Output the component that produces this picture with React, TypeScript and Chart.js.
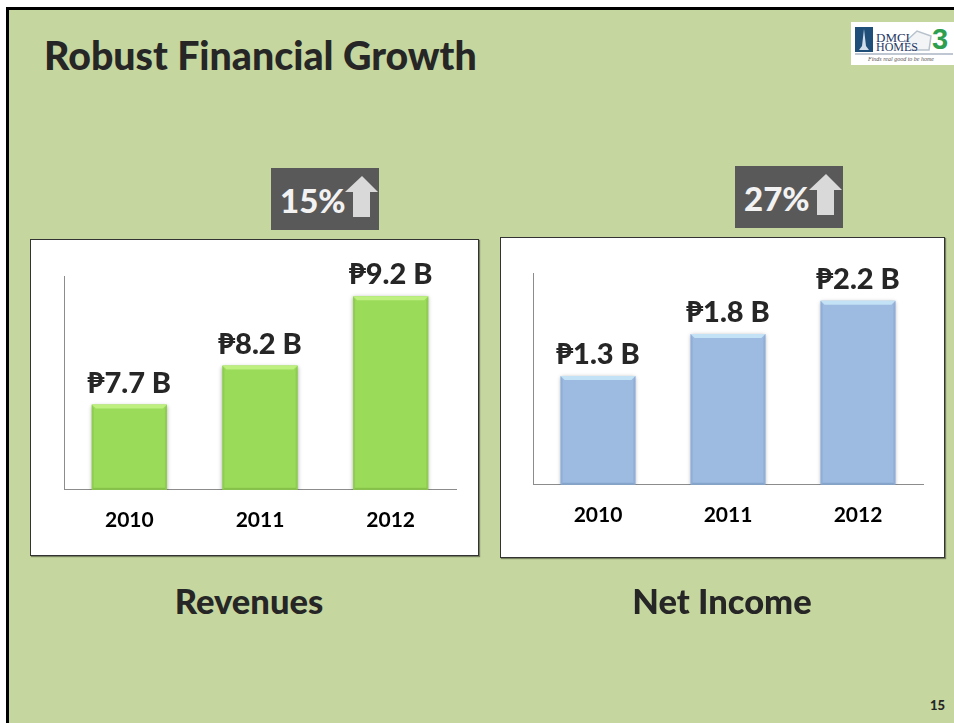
import React, { useEffect, useRef } from "react";
import { Chart, registerables } from "chart.js";

Chart.register(...registerables);

const years = ["2010", "2011", "2012"];
const revenues = [7.7, 8.24, 9.2];
const netIncome = [1.3, 1.8, 2.2];
const FONT = "Lato, 'Noto Sans', sans-serif";

const bevelPlugin = {
  id: "bevel",
  beforeDatasetDraw(chart: any) {
    const c = chart.ctx;
    c.save();
    c.shadowColor = "rgba(0,0,0,0.35)";
    c.shadowBlur = 4;
    c.shadowOffsetY = 1;
  },
  afterDatasetDraw(chart: any) {
    const c = chart.ctx;
    c.restore();
    const o = chart.options.plugins.bevel;
    const meta = chart.getDatasetMeta(0);
    meta.data.forEach((el: any, i: number) => {
      const l = el.x - el.width / 2, r = el.x + el.width / 2, t = el.y;
      const b = Math.min(el.base, chart.chartArea.bottom);
      const s = 4;
      const poly = (pts: number[][], col: any) => {
        c.beginPath();
        pts.forEach((p, k) => (k ? c.lineTo(p[0], p[1]) : c.moveTo(p[0], p[1])));
        c.closePath();
        c.fillStyle = col;
        c.fill();
      };
      poly([[l, t], [r, t], [r - s, t + s], [l + s, t + s]], o.top);
      poly([[l, t], [l + 2, t + s], [l + 2, b - 2], [l, b]], o.side);
      poly([[r, t], [r - 2, t + s], [r - 2, b - 2], [r, b]], o.side);
      poly([[l, b], [l + 2, b - 2], [r - 2, b - 2], [r, b]], o.bottom);
      c.save();
      c.font = `900 29px ${FONT}`;
      c.fillStyle = "#262626";
      c.textAlign = "center";
      c.textBaseline = "alphabetic";
      c.fillText(`₱${chart.data.datasets[0].data[i].toFixed(1)} B`, el.x, t - 12);
      c.restore();
    });
  },
};

function BarChart(props: any) {
  const ref = useRef<HTMLCanvasElement>(null);
  useEffect(() => {
    const chart = new Chart(ref.current as any, {
      type: "bar",
      data: {
        labels: years,
        datasets: [{
          data: props.values,
          backgroundColor: props.fill,
          borderWidth: 0,
          categoryPercentage: 1,
          barPercentage: 0.575,
        }],
      },
      options: {
        animation: false,
        responsive: false,
        layout: { padding: props.padding },
        plugins: {
          legend: { display: false },
          tooltip: { enabled: false },
          title: { display: false },
          bevel: props.bevel,
        },
        scales: {
          x: {
            grid: { display: false, drawTicks: false },
            border: { color: "#8c8c8c", width: 1 },
            ticks: { color: "#000", padding: props.tickPad, font: { family: FONT, weight: "bold", size: 21 } },
          },
          y: {
            min: props.min,
            max: props.max,
            grid: { display: false, drawTicks: false },
            border: { color: "#8c8c8c", width: 1 },
            ticks: { display: false },
          },
        },
      } as any,
      plugins: [bevelPlugin as any],
    });
    return () => chart.destroy();
  }, []);
  return (
    <div style={{ position: "absolute", left: props.x, top: props.y, width: props.w, height: props.h, background: "#fff", outline: "1px solid #333", outlineOffset: -1, boxShadow: "1px 1px 1px rgba(0,0,0,.4)" }}>
      <canvas ref={ref} width={props.w} height={props.h} style={{ display: "block" }} />
    </div>
  );
}

function Badge(props: any) {
  const { x, y, label } = props;
  return (
    <div style={{ position: "absolute", left: x, top: y, width: 108, height: 62, background: "#595959" }}>
      <div style={{ position: "absolute", left: 9, top: 13, color: "#F2F2F2", font: `900 33px ${FONT}`, lineHeight: "38px" }}>{label}</div>
      <svg width="108" height="62" style={{ position: "absolute", left: 0, top: 0 }}>
        <polygon points="91,8 107,24 99,24 99,49 82,49 82,24 74,24" fill="#D9D9D9" />
      </svg>
    </div>
  );
}

function Text(props: any) {
  const { x, y, w, size, align, children, color } = props;
  return (
    <div style={{ position: "absolute", left: x, top: y, width: w, textAlign: align || "left", font: `900 ${size}px ${FONT}`, lineHeight: `${size + 6}px`, color: color || "#262626", whiteSpace: "nowrap" }}>{children}</div>
  );
}

export default function App() {
  return (
    <div style={{ position: "absolute", left: 0, top: 0, width: 954, height: 723, background: "#fff", overflow: "hidden" }}>
      <div style={{ position: "absolute", left: 6, top: 7, width: 948, height: 716, boxSizing: "border-box", borderTop: "3px solid #000", borderLeft: "3px solid #000", background: "#C5D69E" }} />
      <Text x={44} y={32} size={39.3}>Robust Financial Growth</Text>
      <div style={{ position: "absolute", left: 851, top: 22, width: 103, height: 43, background: "#fff" }}>
        <svg width="103" height="43" style={{ position: "absolute", left: 0, top: 0 }}>
          <rect x="4" y="5" width="18" height="25" fill="#1F4E79" />
          <polygon points="13,7 15,24 18,28 8,28 11,24" fill="#cfdcea" />
          <polyline points="54,20 66,9 80,14 78,28 60,28" fill="#f2f4f6" stroke="#b8c2cc" strokeWidth="1.5" />
          <text x="25" y="20" fontFamily="Liberation Serif" fontSize="13" fill="#1F3864">DMCI</text>
          <text x="25" y="29" fontFamily="Liberation Serif" fontSize="12" fill="#1F3864">HOMES</text>
          <text x="81" y="27" fontFamily="Liberation Sans" fontSize="29" fontWeight="bold" fill="#2E9E4F">3</text>
          <line x1="4" y1="32" x2="102" y2="32" stroke="#7f8fa6" />
          <text x="50" y="39" textAnchor="middle" fontFamily="Liberation Serif" fontStyle="italic" fontSize="6" fill="#555">Finds real good to be home</text>
        </svg>
      </div>
      <Badge x={271} y={168} label="15%" />
      <Badge x={735} y={166} label="27%" />
      <BarChart x={30} y={239} w={449} h={317} values={revenues} fill="#9BDB5A" min={6.52} max={9.48} tickPad={18}
        padding={{ left: 34, right: 23, top: 37, bottom: 5 }} bevel={{ top: "#BDF07F", side: "#8FCC52", bottom: "#86C24A" }} />
      <BarChart x={500} y={237} w={445} h={321} values={netIncome} fill="#9DBBE1" min={0} max={2.53} tickPad={18}
        padding={{ left: 33, right: 22, top: 36, bottom: 12 }} bevel={{ top: "#C3E2F5", side: "#90AED6", bottom: "#86A5CC" }} />
      <Text x={30} y={581} w={438} size={34.5} align="center">Revenues</Text>
      <Text x={500} y={581} w={444} size={34.5} align="center">Net Income</Text>
      <Text x={930} y={696} size={13}>15</Text>
    </div>
  );
}
